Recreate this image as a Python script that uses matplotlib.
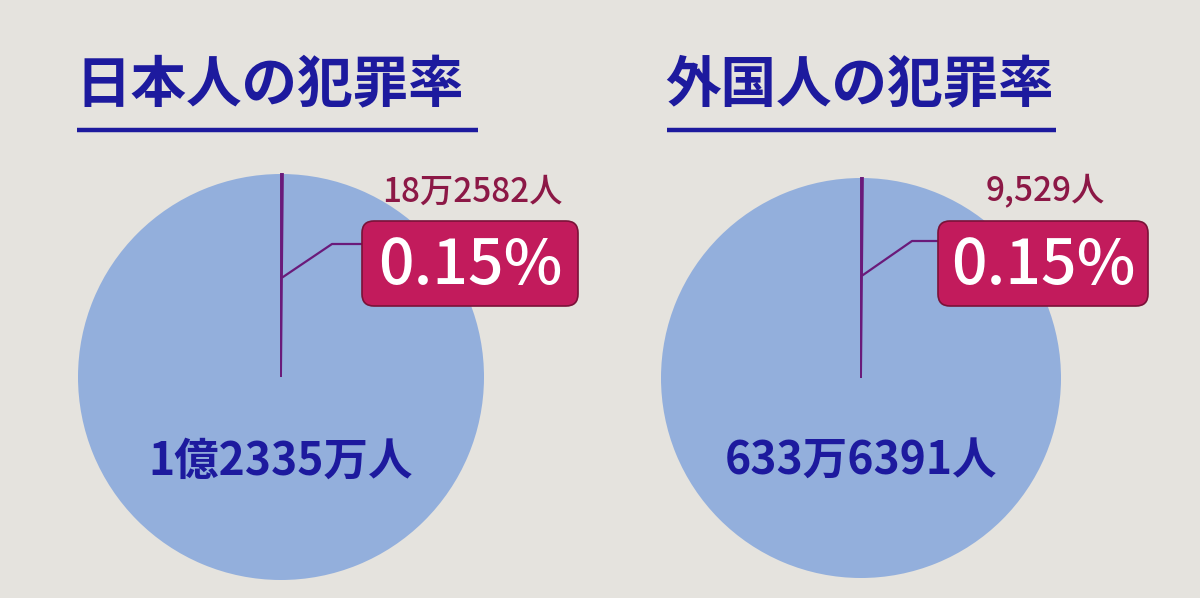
"""Crime rate comparison: Japanese vs. foreign residents (two pie charts)."""

import matplotlib.pyplot as plt
from matplotlib.patches import FancyBboxPatch

plt.rcParams['font.family'] = ['Noto Sans CJK JP', 'DejaVu Sans']

# data
titles = ["日本人の犯罪率", "外国人の犯罪率"]
population = [123350000, 6336391]
offenders = [182582, 9529]
population_labels = ["1億2335万人", "633万6391人"]
offender_labels = ["18万2582人", "9,529人"]

# style
BG = "#e5e3de"
PIE_BLUE = "#93afdc"
NAVY = "#1d1a9e"
MAGENTA = "#c21b5c"
WINE = "#8c1846"
LINE = "#6a1a7a"

W, H = 1200, 598

# panel layout in pixel coordinates (top-left origin)
panels = [
    dict(center=(281, 377), radius=203, title_x=75, line_x=(77, 478),
         box=(362, 221, 216, 85), elbow=((283, 277), (332, 244))),
    dict(center=(861, 378), radius=200, title_x=665, line_x=(667, 1056),
         box=(938, 221, 210, 85), elbow=((863, 275), (912, 241))),
]


def Y(py):
    return H - py


fig = plt.figure(figsize=(W / 100, H / 100), dpi=100, facecolor=BG)
ax = fig.add_axes([0, 0, 1, 1])
ax.set_facecolor(BG)

for i, p in enumerate(panels):
    cx, cy = p["center"]
    rest = population[i] - offenders[i]
    wedges, _ = ax.pie(
        [offenders[i], rest],
        center=(cx, Y(cy)),
        radius=p["radius"],
        startangle=90,
        counterclock=False,
        colors=[PIE_BLUE, PIE_BLUE],
    )
    wedges[1].set_edgecolor("none")
    wedges[0].set_edgecolor(LINE)
    wedges[0].set_linewidth(1.4)
    wedges[0].set_zorder(3)

    # title + underline
    ax.text(p["title_x"], Y(86), titles[i], fontsize=40, fontweight="bold",
            color=NAVY, ha="left", va="center")
    x0, x1 = p["line_x"]
    ax.plot([x0, x1], [Y(130), Y(130)], color=NAVY, lw=3.2,
            solid_capstyle="butt")

    # population label inside the pie
    ax.text(cx, Y(462), population_labels[i], fontsize=32, fontweight="bold",
            color=NAVY, ha="center", va="center")

    # leader line to the rate box
    bx, by, bw, bh = p["box"]
    (ex0, ey0), (ex1, ey1) = p["elbow"]
    ax.plot([ex0, ex1, bx], [Y(ey0), Y(ey1), Y(ey1)], color=LINE, lw=1.6,
            zorder=4)

    # rate box
    box = FancyBboxPatch((bx + 8, Y(by + bh) + 8), bw - 16, bh - 16,
                         boxstyle="round,pad=8,rounding_size=12",
                         facecolor=MAGENTA, edgecolor="#7a1238", lw=1.2,
                         zorder=5)
    ax.add_patch(box)
    rate = offenders[i] / population[i]
    ax.text(bx + bw / 2, Y(by + bh / 2) - 3, f"{rate:.2%}", fontsize=45,
            fontweight="medium", color="white", ha="center", va="center",
            zorder=6)

    # offender count above the box
    ax.text(bx + bw / 2 + 2, Y(192), offender_labels[i], fontsize=24,
            fontweight="medium", color=WINE, ha="center", va="center",
            zorder=6)

ax.set_xlim(0, W)
ax.set_ylim(0, H)
ax.set_aspect("auto")
ax.set_axis_off()

fig.savefig("out.png", dpi=100, facecolor=BG)
